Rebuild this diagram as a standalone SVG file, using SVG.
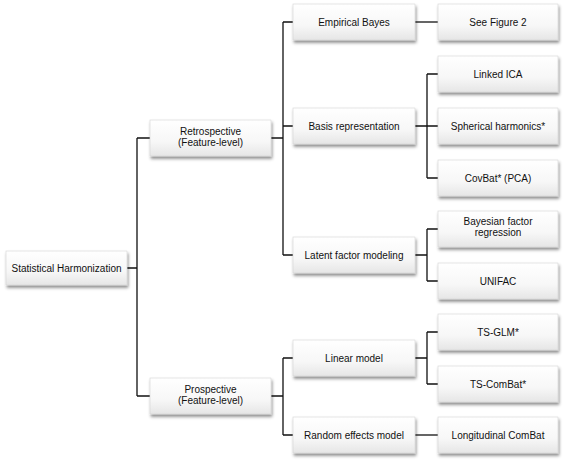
<svg xmlns="http://www.w3.org/2000/svg" width="565" height="462" viewBox="0 0 565 462">
<defs>
<linearGradient id="g" x1="0" y1="0" x2="0" y2="1">
<stop offset="0" stop-color="#ffffff"/>
<stop offset="0.6" stop-color="#f7f7f7"/>
<stop offset="1" stop-color="#e6e6e6"/>
</linearGradient>
<filter id="sh" x="-10%" y="-20%" width="125%" height="150%">
<feDropShadow dx="1" dy="2.5" stdDeviation="1.5" flood-color="#000" flood-opacity="0.45"/>
</filter>
</defs>
<style>
.box{fill:url(#g);stroke:#d4d4d4;stroke-width:0.6;filter:url(#sh)}
.t{font-family:"Liberation Sans",Arial,sans-serif;font-size:10px;fill:#111;text-anchor:middle}
.c{fill:none;stroke:#111;stroke-width:1.3}
</style>
<rect width="565" height="462" fill="#fff"/>
<g id="connectors">
<path class="c" d="M127 268H137M137 138V396M137 138H150M137 396H150"/>
<path class="c" d="M271 138H283M283 22V255M283 22H293M283 126H293M283 255H293"/>
<path class="c" d="M271 396H283M283 358V435M283 358H293M283 435H293"/>
<path class="c" d="M415 22H438"/>
<path class="c" d="M415 126H427M427 74V178M427 74H438M427 126H438M427 178H438"/>
<path class="c" d="M415 255H427M427 229V281M427 229H438M427 281H438"/>
<path class="c" d="M415 358H427M427 332V384M427 332H438M427 384H438"/>
<path class="c" d="M415 435H438"/>
</g>
<g id="n-root"><rect class="box" x="6" y="251" width="121" height="34"/><text class="t" x="66.5" y="271.5">Statistical Harmonization</text></g>
<g id="n-retro"><rect class="box" x="150" y="120" width="121" height="36"/><text class="t" x="210.5" y="135">Retrospective</text><text class="t" x="210.5" y="145.5">(Feature-level)</text></g>
<g id="n-pro"><rect class="box" x="150" y="378" width="121" height="36"/><text class="t" x="210.5" y="393">Prospective</text><text class="t" x="210.5" y="403.5">(Feature-level)</text></g>
<g id="n-eb"><rect class="box" x="293" y="4" width="122" height="36"/><text class="t" x="354" y="25.5">Empirical Bayes</text></g>
<g id="n-basis"><rect class="box" x="293" y="108" width="122" height="36"/><text class="t" x="354" y="129.5">Basis representation</text></g>
<g id="n-latent"><rect class="box" x="293" y="237" width="122" height="36"/><text class="t" x="354" y="258.5">Latent factor modeling</text></g>
<g id="n-linear"><rect class="box" x="293" y="340" width="122" height="36"/><text class="t" x="354" y="361.5">Linear model</text></g>
<g id="n-random"><rect class="box" x="293" y="417" width="122" height="36"/><text class="t" x="354" y="438.5">Random effects model</text></g>
<g id="n-fig2"><rect class="box" x="438" y="4" width="120" height="36"/><text class="t" x="498" y="25.5">See Figure 2</text></g>
<g id="n-lica"><rect class="box" x="438" y="56" width="120" height="36"/><text class="t" x="498" y="77.5">Linked ICA</text></g>
<g id="n-sph"><rect class="box" x="438" y="108" width="120" height="36"/><text class="t" x="498" y="129.5">Spherical harmonics*</text></g>
<g id="n-covbat"><rect class="box" x="438" y="160" width="120" height="36"/><text class="t" x="498" y="181.5">CovBat* (PCA)</text></g>
<g id="n-bfr"><rect class="box" x="438" y="211" width="120" height="36"/><text class="t" x="498" y="225">Bayesian factor</text><text class="t" x="498" y="235.5">regression</text></g>
<g id="n-unifac"><rect class="box" x="438" y="263" width="120" height="36"/><text class="t" x="498" y="284.5">UNIFAC</text></g>
<g id="n-tsglm"><rect class="box" x="438" y="314" width="120" height="36"/><text class="t" x="498" y="335.5">TS-GLM*</text></g>
<g id="n-tscombat"><rect class="box" x="438" y="366" width="120" height="36"/><text class="t" x="498" y="387.5">TS-ComBat*</text></g>
<g id="n-long"><rect class="box" x="438" y="417" width="120" height="36"/><text class="t" x="498" y="438.5">Longitudinal ComBat</text></g>
</svg>
